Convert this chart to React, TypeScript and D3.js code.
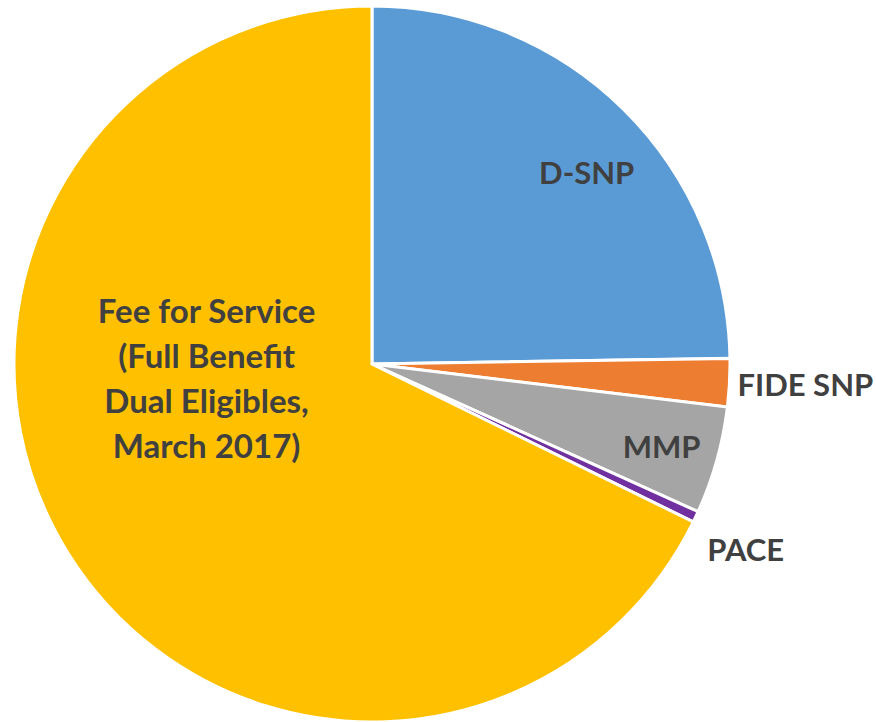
import React from "react";
import * as d3 from "d3";

const categories = ["D-SNP", "FIDE SNP", "MMP", "PACE", "Fee for Service"];
const values = [24.75, 2.17, 4.85, 0.5, 67.73];
const colors = ["#5B9BD5", "#ED7D31", "#A5A5A5", "#7030A0", "#FFC000"];
const labelLines = [["D-SNP"], ["FIDE SNP"], ["MMP"], ["PACE"], ["Fee for Service", "(Full Benefit", "Dual Eligibles,", "March 2017)"]];

// label layout: polar position (deg clockwise from top, radius), anchor, font size
const labelLayout = [
  { angle: 48.2, r: 288, anchor: "middle", size: 31 },
  { angle: 93.1, r: 366, anchor: "start", size: 31 },
  { angle: 105.8, r: 301, anchor: "middle", size: 31 },
  { angle: 118.9, r: 383, anchor: "start", size: 31 },
  { angle: 265.2, r: 166, anchor: "middle", size: 33 },
];

const W = 876, H = 722;
const cx = 372, cy = 364, R = 358;

export default function App() {
  const pie = d3.pie<number>().sort(null).value((d) => d)(values);
  const arc = d3.arc<d3.PieArcDatum<number>>().innerRadius(0).outerRadius(R);
  const lineH = 45;
  return (
    <svg width={W} height={H} style={{ position: "absolute", left: 0, top: 0 }}>
      <g transform={`translate(${cx},${cy})`}>
        {pie.map((p, i) => (
          <path key={categories[i]} d={arc(p) || ""} fill={colors[i]} stroke="#fff" strokeWidth={3} strokeLinejoin="miter" />
        ))}
        {labelLines.map((lines, i) => {
          const L = labelLayout[i];
          const a = (L.angle * Math.PI) / 180;
          const x = L.r * Math.sin(a);
          const y = -L.r * Math.cos(a);
          const y0 = y - ((lines.length - 1) * lineH) / 2;
          return (
            <text key={i} x={x} y={y0} textAnchor={L.anchor as any} fontFamily="Lato, 'Open Sans', sans-serif" fontWeight="bold" fontSize={L.size} fill="#404040" dominantBaseline="central">
              {lines.map((ln, j) => (
                <tspan key={j} x={x} y={y0 + j * lineH}>{ln}</tspan>
              ))}
            </text>
          );
        })}
      </g>
    </svg>
  );
}
